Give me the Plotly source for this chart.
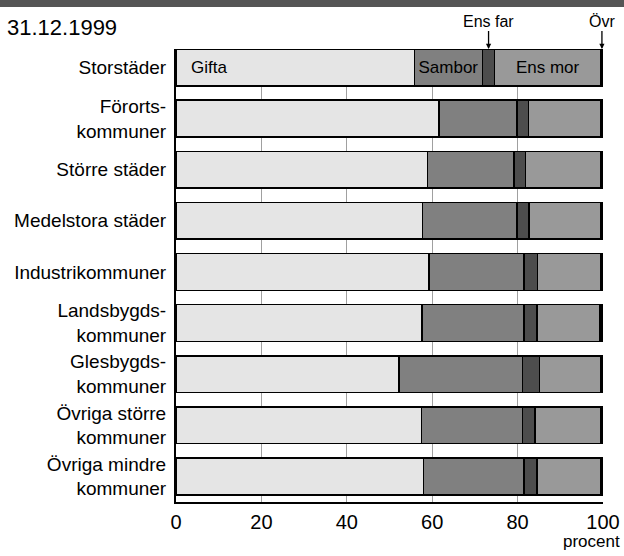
import plotly.graph_objects as go

# =====================================================
# Data (procent, 31.12.1999)
# =====================================================

kommungrupper = [
    "Storstäder",
    "Förorts-<br>kommuner",
    "Större städer",
    "Medelstora städer",
    "Industrikommuner",
    "Landsbygds-<br>kommuner",
    "Glesbygds-<br>kommuner",
    "Övriga större<br>kommuner",
    "Övriga mindre<br>kommuner",
]

gifta = [55.8, 61.6, 58.9, 57.7, 59.3, 57.6, 52.2, 57.5, 58.0]
sambor = [16.0, 18.2, 20.3, 22.1, 22.2, 23.9, 28.9, 23.6, 23.5]
ens_far = [2.8, 2.7, 2.7, 2.9, 3.2, 3.0, 4.0, 3.0, 3.1]
ens_mor = [24.9, 17.0, 17.6, 16.8, 14.8, 14.8, 14.4, 15.3, 14.9]
ovr = [0.5, 0.5, 0.5, 0.5, 0.5, 0.7, 0.5, 0.6, 0.5]

x_ticks = [0, 20, 40, 60, 80, 100]

FONT = "Liberation Sans, Arial, sans-serif"

# =====================================================
# Figure
# =====================================================

series = [
    ("Gifta", gifta, "#e5e5e5"),
    ("Sambor", sambor, "#808080"),
    ("Ens far", ens_far, "#4d4d4d"),
    ("Ens mor", ens_mor, "#999999"),
    ("Övr", ovr, "#000000"),
]

fig = go.Figure()

for name, values, color in series:

    # Sambor / Ens mor are labelled inside the first bar
    labels = [""] * len(values)
    if name in ("Sambor", "Ens mor"):
        labels[0] = name

    fig.add_trace(
        go.Bar(
            y=kommungrupper,
            x=values,
            name=name,
            orientation="h",
            marker=dict(
                color=color,
                line=dict(color="#000000", width=1.5)
            ),
            text=labels,
            textposition="inside",
            insidetextanchor="middle",
            textfont=dict(family=FONT, size=17, color="#000000"),
            textangle=0,
            hoverinfo="skip",
        )
    )

fig.update_layout(
    template="none",
    barmode="stack",
    bargap=0.28,
    width=624,
    height=556,
    margin=dict(l=176, r=21, t=49, b=54, autoexpand=False),
    paper_bgcolor="white",
    plot_bgcolor="white",
    showlegend=False,
    font=dict(family=FONT, size=19, color="#000000"),
    uniformtext=dict(minsize=17, mode="show"),
)

fig.update_xaxes(
    range=[0, 100],
    tickvals=x_ticks,
    ticktext=[str(v) for v in x_ticks],
    tickfont=dict(size=20),
    showgrid=True,
    gridcolor="#a0a0a0",
    gridwidth=1.2,
    zeroline=False,
    showline=True,
    linecolor="#000000",
    linewidth=2,
    ticks="",
    ticklabelstandoff=1,
    automargin=False,
)

fig.update_yaxes(
    range=[8.5, -0.36],
    autorange=False,
    showgrid=False,
    zeroline=False,
    showline=True,
    linecolor="#000000",
    linewidth=2,
    ticks="",
    ticklabelstandoff=4,
    tickfont=dict(size=19),
    automargin=False,
)

# top band
band_top = 1 + 49 / 453
fig.add_shape(
    type="rect",
    xref="paper", yref="paper",
    x0=-176 / 427, x1=1 + 21 / 427,
    y0=band_top - 7 / 453, y1=band_top,
    fillcolor="#555555",
    line=dict(width=0),
    layer="above",
)

# date
fig.add_annotation(
    text="31.12.1999",
    xref="paper", yref="paper",
    x=-171 / 427, y=1 + 21 / 453,
    xanchor="left", yanchor="middle",
    showarrow=False,
    font=dict(size=22),
)

# Gifta label, indented from the bar start
fig.add_annotation(
    text="Gifta",
    x=0, y=kommungrupper[0],
    xref="x", yref="y",
    xanchor="left", yanchor="middle",
    xshift=13,
    showarrow=False,
    font=dict(size=17),
)

# arrow labels above first bar
ens_far_mid = gifta[0] + sambor[0] + ens_far[0] / 2
ovr_mid = 100 - ovr[0] / 2

for label, xpos in (("Ens far", ens_far_mid), ("Övr", ovr_mid)):
    fig.add_annotation(
        text=label,
        x=xpos,
        y=-0.36,
        xref="x", yref="y",
        showarrow=True,
        arrowhead=2,
        arrowsize=0.8,
        arrowwidth=1.3,
        arrowcolor="#000000",
        ax=0,
        ay=-28,
        font=dict(size=16),
    )

# axis unit
fig.add_annotation(
    text="procent",
    xref="paper", yref="paper",
    x=1 + 19 / 427, y=-39 / 453,
    xanchor="right", yanchor="middle",
    showarrow=False,
    font=dict(size=17),
)

# page has a default 8px body margin; drop it so the figure fills the window
fig.write_html(
    "out.html",
    config={"displayModeBar": False},
    post_script="document.body.style.margin='0';document.body.style.overflow='hidden';"
)
